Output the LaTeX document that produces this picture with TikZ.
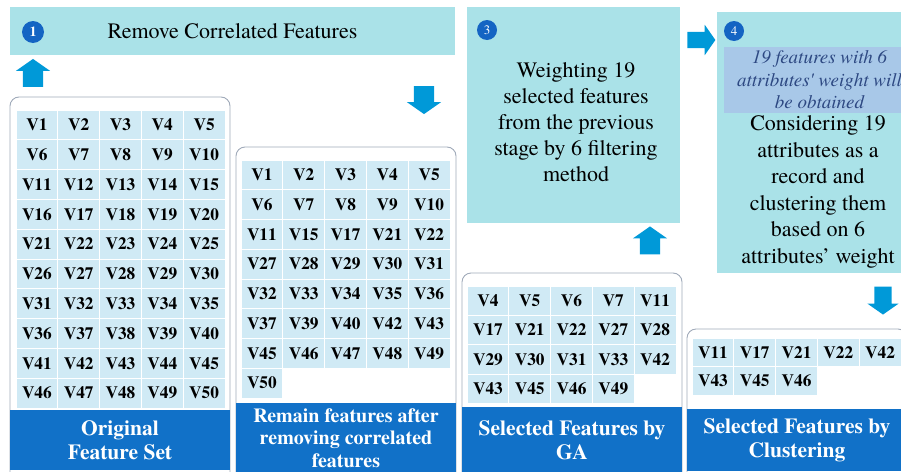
\documentclass[tikz,border=0pt]{standalone}
\usepackage{fontspec}
\setmainfont{texgyretermes}[Extension=.otf, UprightFont=*-regular, BoldFont=*-bold, ItalicFont=*-italic, BoldItalicFont=*-bolditalic]
\usepackage{tikz}
\usetikzlibrary{positioning}
\usetikzlibrary{shapes.arrows}

\definecolor{stagecyan}{RGB}{170,226,232}
\definecolor{noteblue}{RGB}{168,200,232}
\definecolor{notetext}{RGB}{45,72,130}
\definecolor{cellblue}{RGB}{208,234,245}
\definecolor{labelblue}{RGB}{17,113,200}
\definecolor{arrowblue}{RGB}{0,153,216}
\definecolor{badgeblue}{RGB}{20,100,195}
\definecolor{panelgray}{RGB}{160,170,185}

\newcommand{\fsz}[2]{\fontsize{#1}{#2}\selectfont}
% grid of feature cells: name, left, top, row height, list
\newcommand{\featgrid}[5]{%
  \foreach \v [count=\k from 0] in {#5} {
    \pgfmathtruncatemacro{\cc}{mod(\k,5)}
    \pgfmathtruncatemacro{\rr}{\k/5}
    \node[featcell, minimum height=#4] (#1-\v) at ({#2+(\cc+0.5)*41.8},{#3+(\rr+0.5)*#4}) {V\v};
  }}

\begin{document}
\begin{tikzpicture}[x=1pt, y=-1pt,
                    featcell/.style={rectangle, fill=cellblue, draw=white, line width=0.8pt, minimum width=41.8, inner sep=0, font=\bfseries\fsz{17.3}{18}},
                    panel/.style={rectangle, rounded corners=9pt, draw=panelgray, line width=0.9pt, fill=white, minimum width=220},
                    labelbox/.style={rectangle, fill=labelblue, text=white, align=center, minimum width=220, inner sep=0, font=\bfseries\fsz{21.5}{24}},
                    stagebox/.style={rectangle, fill=stagecyan, inner sep=0},
                    badge/.style={circle, fill=badgeblue, text=white, minimum size=20pt, inner sep=0, font=\fsz{13}{13}},
                    flowarrow/.style={single arrow, fill=arrowblue, minimum height=28pt, text height=20pt, text depth=0pt, text width=0pt, single arrow head extend=7pt, single arrow tip angle=110, inner sep=0},
                   ]
  \useasboundingbox (0,0) rectangle (901,471);
  \clip (0,0) rectangle (901,471);

  %Panels
  \node[panel, minimum height=393] (orig)   at (120,293.5) {};
  \node[panel, minimum height=343] (remain) at (346,318.5) {};
  \node[panel, minimum height=217] (ga)     at (572,381.5) {};
  \node[panel, minimum height=161] (clust)  at (797,409.5) {};

  %Feature cells
  \featgrid{o}{16}{110}{29.8}{1,2,3,4,5,6,7,8,9,10,11,12,13,14,15,16,17,18,19,20,21,22,23,24,25,26,27,28,29,30,31,32,33,34,35,36,37,38,39,40,41,42,43,44,45,46,47,48,49,50}
  \featgrid{r}{241}{160}{29.75}{1,2,3,4,5,6,7,8,9,10,11,15,17,21,22,27,28,29,30,31,32,33,34,35,36,37,39,40,42,43,45,46,47,48,49,50}
  \featgrid{g}{467}{286}{29.3}{4,5,6,7,11,17,21,22,27,28,29,30,31,33,42,43,45,46,49}
  \featgrid{c}{692}{338}{28.5}{11,17,21,22,42,43,45,46}

  %Labels
  \node[labelbox, minimum height=60] (origlbl)   at (120,440) {Original\\Feature Set};
  \node[labelbox, minimum height=70, font=\bfseries\fsz{20}{22.5}] (remainlbl) at (346,438) {Remain features after\\removing correlated\\features};
  \node[labelbox, minimum height=66] (galbl)     at (572,440) {Selected Features by\\GA};
  \node[labelbox, minimum height=62] (clustlbl)  at (797,440) {Selected Features by\\Clustering};

  %Stages
  \node[stagebox, minimum width=445, minimum height=48, font=\fsz{22}{26}] (step1) at (232.5,31) {Remove Correlated Features};
  \node[badge, minimum size=22pt, font=\bfseries\fsz{14}{14}] (badge1) at (33,32) {1};

  \node[stagebox, minimum width=213, minimum height=216] (step3) at (573.5,115) {};
  \node[badge] (badge3) at (487,30) {3};
  \node[align=center, font=\fsz{22}{26}] (step3txt) at (576,122) {Weighting 19\\selected features\\from the previous\\stage by 6 filtering\\method};

  \node[stagebox, minimum width=198, minimum height=261] (step4) at (816,142.5) {};
  \node[badge] (badge4) at (734,31) {4};
  \node[rectangle, fill=noteblue, minimum width=191, minimum height=66, inner sep=0, align=center, text=notetext, font=\itshape\fsz{19}{22.5}] (note4) at (819.5,80) {19 features with 6\\attributes\textquotesingle\ weight will\\be obtained};
  \node[align=center, font=\fsz{22}{26.5}] (step4txt) at (818,192) {Considering 19\\attributes as a\\record and\\clustering them\\based on 6\\attributes' weight};

  %Arrows
  \node[flowarrow, rotate=90]  (upA)    at (33,76.5)  {};
  \node[flowarrow, rotate=-90] (downB)  at (424,96.5) {};
  \node[flowarrow, rotate=90]  (upC)    at (650,244)  {};
  \node[flowarrow, text height=16pt]  (rightD) at (698.5,40) {};
  \node[flowarrow, rotate=-90, text height=17pt] (downE) at (883,297.5) {};
\end{tikzpicture}
\end{document}
